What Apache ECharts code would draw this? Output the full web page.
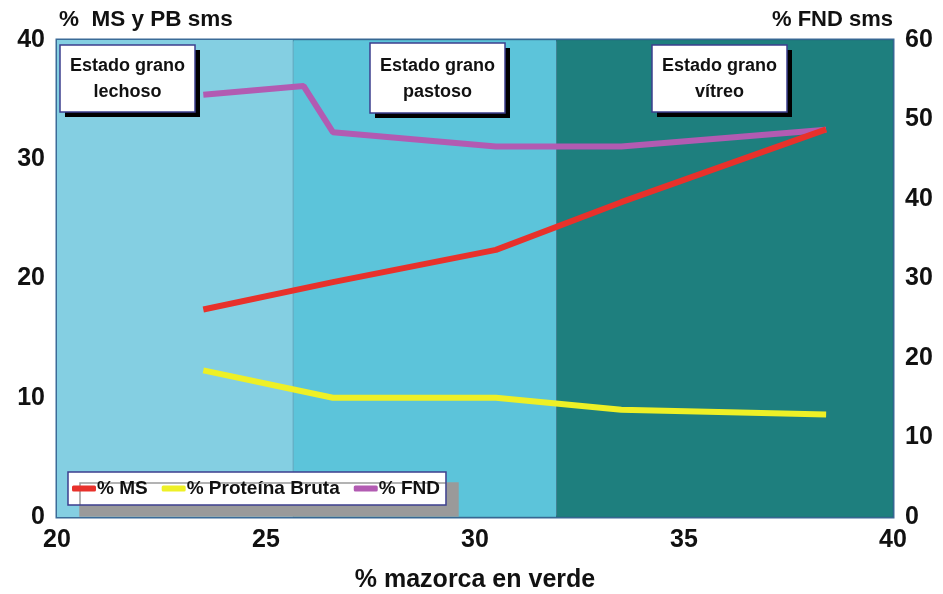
<!DOCTYPE html>
<html><head><meta charset="utf-8">
<script src="https://cdn.jsdelivr.net/npm/echarts@6/dist/echarts.min.js"></script>
<style>html,body{margin:0;padding:0;background:#fff;overflow:hidden}#c{width:943px;height:594px}</style>
</head><body><div id="c"></div>
<script>
// x positions (% mazorca en verde)
const xMain = [23.5, 26.6, 30.5, 33.5, 38.4];
const msValues = [17.4, 19.7, 22.4, 26.4, 32.5];
const pbValues = [12.3, 10.0, 10.0, 9.0, 8.6];
const xFnd = [23.5, 25.9, 26.6, 30.5, 33.5, 38.4];
const fndValues = [53.1, 54.2, 48.4, 46.6, 46.6, 48.7];
// stage ranges
const stageNames = ['Estado grano\nlechoso', 'Estado grano\npastoso', 'Estado grano\nvítreo'];
const stageRanges = [[20, 25.65], [25.65, 31.95], [31.95, 40]];
const stageColors = ['#84cfe2', '#5cc4da', '#1e7f7e'];
const xTicks = [20, 25, 30, 35, 40];

const pair = (xs, ys) => xs.map((x, i) => [x, ys[i]]);
const font = '"Liberation Sans", Arial, sans-serif';
const chart = echarts.init(document.getElementById('c'));

const boxes = [[60, 45, 135, 67], [370, 43, 135, 70], [652, 45, 135, 67]];
const graphics = [];
boxes.forEach((b, i) => {
  graphics.push({ type: 'rect', z: 100, shape: { x: b[0] + 5, y: b[1] + 5, width: b[2], height: b[3] }, style: { fill: '#000' } });
  graphics.push({ type: 'rect', z: 101, shape: { x: b[0], y: b[1], width: b[2], height: b[3] }, style: { fill: '#fff', stroke: '#3d3f8e', lineWidth: 1.5 } });
  graphics.push({ type: 'text', z: 102, x: b[0] + b[2] / 2, y: b[1] + b[3] / 2 + 1,
    style: { text: stageNames[i], fill: '#111', font: 'bold 18px Liberation Sans', textAlign: 'center', textVerticalAlign: 'middle', align: 'center', verticalAlign: 'middle', lineHeight: 26 } });
});

chart.setOption({
  animation: false,
  backgroundColor: '#fff',
  grid: { left: 57, right: 50, top: 40, bottom: 77, show: true, borderColor: '#3b6b98', borderWidth: 3, backgroundColor: 'transparent', outerBoundsMode: 'none', containLabel: false },
  xAxis: {
    type: 'value', min: 20, max: 40, interval: 5,
    name: '% mazorca en verde', nameLocation: 'middle', nameGap: 51,
    nameTextStyle: { fontFamily: font, fontWeight: 'bold', fontSize: 25, color: '#111' },
    axisLine: { show: false }, axisTick: { show: false }, splitLine: { show: false },
    axisLabel: { fontFamily: font, fontWeight: 'bold', fontSize: 25, color: '#111', margin: 11,
      formatter: v => xTicks.includes(v) ? String(v) : '' }
  },
  yAxis: [
    { type: 'value', min: 0, max: 40, interval: 10, position: 'left',
      name: '%  MS y PB sms', nameLocation: 'end', nameGap: 9,
      nameTextStyle: { fontFamily: font, fontWeight: 'bold', fontSize: 22.5, color: '#111', align: 'left', padding: [0, 0, 0, 2] },
      axisLine: { show: false }, axisTick: { show: false }, splitLine: { show: false },
      axisLabel: { fontFamily: font, fontWeight: 'bold', fontSize: 25, color: '#111', margin: 12 } },
    { type: 'value', min: 0, max: 60, interval: 10, position: 'right',
      name: '% FND sms', nameLocation: 'end', nameGap: 9,
      nameTextStyle: { fontFamily: font, fontWeight: 'bold', fontSize: 22, color: '#111', align: 'right', padding: [0, 0, 0, 0] },
      axisLine: { show: false }, axisTick: { show: false }, splitLine: { show: false },
      axisLabel: { fontFamily: font, fontWeight: 'bold', fontSize: 25, color: '#111', margin: 12 } }
  ],
  legend: {
    left: 68, top: 472, itemGap: 14, itemWidth: 24, itemHeight: 6,
    padding: [7, 6, 7, 4],
    backgroundColor: '#fff', borderColor: '#3d3f8e', borderWidth: 1.5,
    shadowColor: '#9a9a9a', shadowBlur: 0, shadowOffsetX: 12, shadowOffsetY: 11,
    icon: 'roundRect',
    textStyle: { fontFamily: font, fontWeight: 'bold', fontSize: 19, color: '#111', padding: [0, 0, 0, -4] },
    data: ['% MS', '% Proteína Bruta', '% FND']
  },
  graphic: { elements: graphics },
  series: [
    { name: 'stages', type: 'line', data: [], silent: true,
      markArea: { silent: true,
        data: stageRanges.map((r, i) => [
          { xAxis: r[0], itemStyle: { color: stageColors[i], borderColor: i === 0 ? 'transparent' : 'rgba(40,90,120,0.35)', borderWidth: 1 } },
          { xAxis: r[1] }
        ]) } },
    { name: '% Proteína Bruta', type: 'line', data: pair(xMain, pbValues), yAxisIndex: 0,
      showSymbol: false, lineStyle: { width: 6, color: '#eef026' }, itemStyle: { color: '#eef026' } },
    { name: '% FND', type: 'line', data: pair(xFnd, fndValues), yAxisIndex: 1,
      showSymbol: false, lineStyle: { width: 6, color: '#b25bb2' }, itemStyle: { color: '#b25bb2' } },
    { name: '% MS', type: 'line', data: pair(xMain, msValues), yAxisIndex: 0,
      showSymbol: false, lineStyle: { width: 6, color: '#e8312b' }, itemStyle: { color: '#e8312b' } }
  ]
});
</script></body></html>
